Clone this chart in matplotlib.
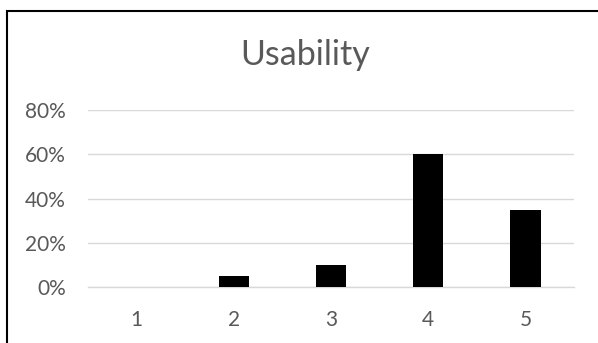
import matplotlib
matplotlib.use("Agg")
import matplotlib.pyplot as plt
from matplotlib.patches import Rectangle
from matplotlib.ticker import PercentFormatter

categories = ["1", "2", "3", "4", "5"]
shares = [0.0, 0.05, 0.10, 0.60, 0.35]
y_ticks = [0.0, 0.2, 0.4, 0.6, 0.8]

plt.rcParams["font.family"] = ["Lato", "DejaVu Sans"]
text_gray = "#595959"
grid_gray = "#d9d9d9"

fig = plt.figure(figsize=(5.98, 3.43), dpi=100)
W, H = 598, 343

# chart frame
fig.patches.append(Rectangle((7 / W, -0.1), 1.2, 1 - 11 / H + 0.1,
                             transform=fig.transFigure, fill=False,
                             edgecolor="black", linewidth=1.5))

ax = fig.add_axes([88 / W, 1 - 287.3 / H, (574 - 88) / W, (287.3 - 110) / H])
x = list(range(1, len(categories) + 1))
ax.bar(x, shares, width=0.314, color="black", zorder=3)

ax.set_xlim(0.5, 5.5)
ax.set_ylim(0, 0.8)
ax.set_yticks(y_ticks)
ax.yaxis.set_major_formatter(PercentFormatter(1.0, decimals=0))
ax.set_xticks(x)
ax.set_xticklabels(categories)

ax.grid(axis="y", color=grid_gray, linewidth=1.0, zorder=0)
for side in ["top", "right", "left"]:
    ax.spines[side].set_visible(False)
ax.spines["bottom"].set_color(grid_gray)
ax.spines["bottom"].set_linewidth(1.0)
ax.spines["bottom"].set_zorder(2)

ax.tick_params(axis="y", length=0, pad=16, labelsize=15, labelcolor=text_gray)
ax.tick_params(axis="x", length=0, pad=16, labelsize=15, labelcolor=text_gray)

fig.text(305 / W, 1 - 55 / H, "Usability", ha="center", va="center",
         fontsize=24.5, color=text_gray)

fig.savefig("out.png", dpi=100)
